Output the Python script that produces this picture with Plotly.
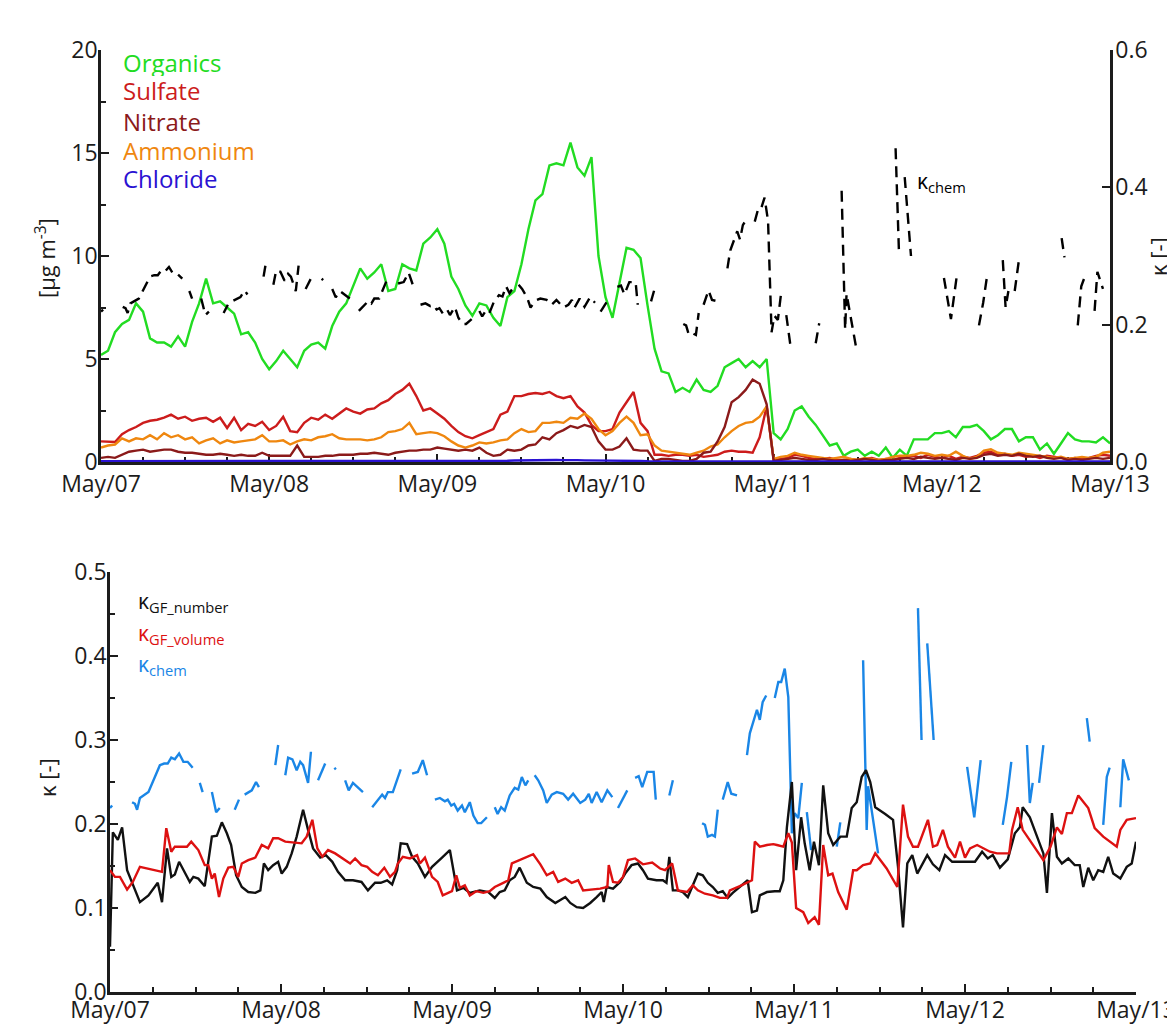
import plotly.graph_objects as go

W, H = 1167, 1025

# ---------------------------------------------------------------- time base
# hours since May/07 00:00, hourly AMS record
hours = list(range(145))

day_ticks = [0, 24, 48, 72, 96, 120, 144]
day_labels = ["May/07", "May/08", "May/09", "May/10", "May/11", "May/12", "May/13"]

# ---------------------------------------------------------------- AMS mass concentrations [ug m-3]
organics = [
    5.2, 5.4, 6.3, 6.7, 6.9, 7.7, 7.3, 6.0, 5.8, 5.8, 5.6, 6.1, 5.6, 6.8, 7.7, 8.9, 7.7, 7.8, 7.5, 7.2, 6.2, 6.3, 5.8, 5.0,
    4.5, 4.9, 5.4, 5.0, 4.6, 5.4, 5.7, 5.8, 5.5, 6.6, 7.3, 7.7, 8.6, 9.4, 8.9, 9.2, 9.6, 8.3, 8.4, 9.6, 9.4, 9.3, 10.6, 10.9,
    11.3, 10.6, 9.0, 8.4, 7.6, 7.1, 7.7, 7.6, 7.0, 6.6, 8.0, 8.3, 9.6, 11.3, 12.7, 13.0, 14.4, 14.5, 14.4, 15.5, 14.3, 13.9, 14.8, 10.0,
    8.0, 7.0, 8.7, 10.4, 10.3, 9.9, 7.6, 5.5, 4.4, 4.3, 3.4, 3.6, 3.4, 4.0, 3.5, 3.4, 3.7, 4.6, 4.8, 5.0, 4.6, 4.9, 4.6, 5.0,
    1.4, 1.1, 1.6, 2.5, 2.7, 2.2, 1.8, 1.3, 0.8, 0.9, 0.3, 0.5, 0.6, 0.3, 0.5, 0.3, 0.7, 0.2, 0.6, 0.3, 1.1, 1.1, 1.1, 1.4,
    1.4, 1.5, 1.2, 1.7, 1.7, 1.8, 1.5, 1.1, 1.3, 1.6, 1.6, 1.0, 1.2, 1.2, 0.6, 0.9, 0.4, 0.9, 1.4, 1.1, 1.0, 1.0, 0.95, 1.2,
    0.9,
]
sulfate = [
    1.0, 1.0, 0.97, 1.35, 1.55, 1.7, 1.9, 2.0, 2.05, 2.15, 2.3, 2.1, 2.2, 2.0, 2.1, 2.15, 1.95, 2.15, 1.65, 2.15, 1.55, 1.85, 1.75, 1.95,
    1.55, 1.75, 2.2, 1.5, 1.45, 1.9, 2.15, 2.05, 2.3, 2.1, 2.35, 2.6, 2.45, 2.35, 2.55, 2.6, 2.85, 3.0, 3.3, 3.5, 3.8, 3.2, 2.5, 2.6,
    2.35, 2.1, 1.75, 1.45, 1.25, 1.15, 1.3, 1.45, 1.6, 2.3, 2.45, 3.2, 3.2, 3.3, 3.35, 3.3, 3.4, 3.2, 3.1, 3.2, 2.7, 2.4, 1.8, 1.5,
    1.5, 1.6, 2.4, 2.9, 3.4, 1.9, 1.5, 0.35, 0.35, 0.3, 0.35, 0.35, 0.3, 0.35, 0.25, 0.3, 0.35, 0.5, 0.55, 0.5, 0.5, 0.45, 1.2, 2.7,
    0.1, 0.15, 0.2, 0.35, 0.3, 0.2, 0.15, 0.15, 0.2, 0.1, 0.1, 0.15, 0.1, 0.15, 0.2, 0.1, 0.15, 0.1, 0.2, 0.25, 0.3, 0.2, 0.35, 0.25,
    0.2, 0.3, 0.15, 0.25, 0.2, 0.3, 0.45, 0.5, 0.35, 0.4, 0.3, 0.35, 0.25, 0.3, 0.2, 0.3, 0.25, 0.2, 0.15, 0.2, 0.15, 0.2, 0.3, 0.35,
    0.3,
]
nitrate = [
    0.2, 0.25, 0.2, 0.35, 0.5, 0.55, 0.6, 0.5, 0.55, 0.6, 0.6, 0.5, 0.45, 0.45, 0.4, 0.35, 0.35, 0.4, 0.35, 0.3, 0.35, 0.3, 0.3, 0.45,
    0.3, 0.3, 0.3, 0.3, 0.8, 0.25, 0.25, 0.25, 0.3, 0.3, 0.35, 0.35, 0.35, 0.4, 0.4, 0.45, 0.4, 0.35, 0.45, 0.5, 0.55, 0.55, 0.6, 0.6,
    0.7, 0.65, 0.6, 0.55, 0.6, 0.55, 0.7, 0.45, 0.3, 0.35, 0.6, 0.55, 0.6, 0.8, 0.85, 1.2, 1.1, 1.4, 1.55, 1.75, 1.65, 1.8, 1.7, 1.0,
    0.6, 0.6, 0.75, 1.15, 0.6, 0.55, 0.55, 0.05, 0.15, 0.15, 0.1, 0.05, 0.05, 0.15, 0.45, 0.5, 1.0, 1.7, 2.9, 3.15, 3.5, 4.0, 3.8, 2.8,
    0.05, 0.1, 0.15, 0.2, 0.15, 0.1, 0.1, 0.15, 0.1, 0.05, 0.1, 0.05, 0.1, 0.15, 0.1, 0.05, 0.1, 0.1, 0.15, 0.2, 0.15, 0.25, 0.2, 0.15,
    0.2, 0.15, 0.1, 0.2, 0.15, 0.2, 0.35, 0.4, 0.3, 0.35, 0.3, 0.4, 0.3, 0.25, 0.3, 0.2, 0.15, 0.2, 0.1, 0.15, 0.1, 0.15, 0.2, 0.15,
    0.2,
]
ammonium = [
    0.7, 0.8, 0.85, 1.15, 1.0, 1.15, 1.1, 1.3, 1.1, 1.4, 1.2, 1.3, 1.1, 1.2, 0.9, 1.05, 1.15, 0.9, 1.05, 0.95, 1.0, 1.05, 1.1, 1.3,
    1.0, 1.0, 1.05, 0.85, 1.0, 1.1, 1.05, 1.2, 1.25, 1.35, 1.15, 1.1, 1.1, 1.1, 1.05, 1.1, 1.2, 1.45, 1.5, 1.6, 1.9, 1.35, 1.4, 1.45,
    1.4, 1.25, 1.0, 0.8, 0.7, 0.8, 0.95, 0.9, 0.95, 1.05, 1.1, 1.4, 1.6, 1.45, 1.5, 1.9, 1.9, 1.95, 1.9, 2.15, 2.1, 2.35, 2.1, 1.6,
    1.3, 1.5, 1.9, 2.2, 1.9, 1.3, 1.35, 0.8, 0.55, 0.5, 0.45, 0.4, 0.35, 0.45, 0.55, 0.75, 0.85, 1.2, 1.5, 1.75, 1.9, 1.95, 2.2, 2.7,
    0.15, 0.25, 0.3, 0.45, 0.35, 0.3, 0.25, 0.2, 0.15, 0.2, 0.25, 0.15, 0.1, 0.2, 0.15, 0.1, 0.15, 0.25, 0.3, 0.3, 0.35, 0.45, 0.4, 0.3,
    0.35, 0.3, 0.5, 0.3, 0.15, 0.25, 0.55, 0.62, 0.45, 0.4, 0.35, 0.45, 0.4, 0.35, 0.3, 0.25, 0.2, 0.25, 0.15, 0.2, 0.25, 0.2, 0.25, 0.45,
    0.5,
]
chloride = [
    0.04, 0.04, 0.03, 0.04, 0.04, 0.05, 0.04, 0.04, 0.03, 0.04, 0.04, 0.04, 0.05, 0.04, 0.04, 0.03, 0.04, 0.04, 0.04, 0.05, 0.04, 0.04, 0.04, 0.03,
    0.04, 0.04, 0.04, 0.05, 0.04, 0.04, 0.04, 0.04, 0.05, 0.04, 0.04, 0.05, 0.05, 0.04, 0.05, 0.05, 0.05, 0.05, 0.06, 0.05, 0.05, 0.05, 0.05, 0.05,
    0.05, 0.05, 0.04, 0.04, 0.04, 0.05, 0.05, 0.05, 0.05, 0.06, 0.06, 0.07, 0.08, 0.08, 0.09, 0.08, 0.09, 0.1, 0.09, 0.1, 0.09, 0.08, 0.08, 0.06,
    0.05, 0.05, 0.06, 0.06, 0.05, 0.05, 0.04, 0.03, 0.03, 0.03, 0.03, 0.03, 0.03, 0.03, 0.03, 0.03, 0.04, 0.04, 0.04, 0.04, 0.05, 0.05, 0.05, 0.05,
    0.03, 0.03, 0.03, 0.03, 0.03, 0.03, 0.03, 0.03, 0.03, 0.03, 0.03, 0.03, 0.03, 0.03, 0.03, 0.03, 0.03, 0.03, 0.03, 0.03, 0.03, 0.03, 0.03, 0.03,
    0.03, 0.03, 0.03, 0.03, 0.03, 0.03, 0.04, 0.04, 0.03, 0.03, 0.03, 0.03, 0.03, 0.03, 0.03, 0.03, 0.03, 0.03, 0.03, 0.03, 0.03, 0.03, 0.03, 0.03,
    0.03,
]

# ---------------------------------------------------------------- kappa from chemical composition (None = no data)
kchem_h = [
    0.0, 0.3, None,
    3.1, 3.5, 3.8, 4.2, 5.4, 6.3, 7.0, 7.6, 8.1, 8.6, 9.1, 9.7, 10.3, 10.9, 11.6, None,
    12.6, 13.0, None,
    14.3, 14.9, 15.4, None,
    17.5, 18.1, None,
    18.9, 19.9, 20.5, 20.9, None,
    23.2, 23.6, None,
    24.6, 25.0, 25.6, 26.2, 26.7, 27.1, 27.8, 28.2, None,
    29.2, 29.7, 30.2, None,
    31.5, 31.7, None,
    33.0, 33.5, 34.1, 34.8, 35.5, None,
    36.8, 37.5, 38.2, 38.6, 39.0, 39.7, 40.4, 40.8, None,
    42.4, 43.2, 43.9, 44.5, None,
    45.6, 46.3, 47.0, 47.4, 47.9, 48.3, 48.8, 49.4, 49.8, 50.5, 51.0, 51.6, 52.1, 52.9, None,
    54.0, 54.4, 54.9, 55.4, 56.1, 56.8, 57.3, 57.8, 58.3, 58.7, None,
    59.6, 60.1, 60.8, 61.3, 62.0, 62.7, 63.6, 64.3, 65.0, 66.0, 66.7, 67.2, 67.6, 68.3, 69.0, 69.8, 70.5, None,
    71.3, 72.6, None,
    73.7, 74.2, 74.7, 75.4, 76.3, 76.6, None,
    78.5, 79.0, None,
    83.1, 83.5, 83.9, 84.5, 84.9, 85.3, None,
    86.0, 86.7, 87.2, 88.0, None,
    89.4, 89.8, 90.8, 91.2, 91.6, 92.1, None,
    93.3, 93.8, 94.2, 94.7, 95.2, 95.7, 96.1, 96.6, 97.1, None,
    97.8, 98.4, None,
    102.0, 102.5, None,
    105.7, 106.2, 106.4, 107.8, None,
    113.4, 113.9, None,
    114.7, 115.6, None,
    120.3, 121.3, 122.2, None,
    125.3, 125.9, 126.5, None,
    128.7, 129.1, 129.5, None,
    130.4, 131.0, None,
    137.1, 137.5, None,
    139.4, 139.9, 140.3, None,
    141.8, 142.2, 143.0,
]
kchem = [
    0.219, 0.222, None,
    0.226, 0.224, 0.217, 0.231, 0.238, 0.255, 0.270, 0.272, 0.272, 0.279, 0.277, 0.284, 0.274, 0.274, 0.267, None,
    0.249, 0.238, None,
    0.238, 0.214, 0.219, None,
    0.217, 0.229, None,
    0.235, 0.240, 0.250, 0.244, None,
    0.270, 0.294, None,
    0.258, 0.279, 0.277, 0.264, 0.274, 0.270, 0.249, 0.286, None,
    0.252, 0.262, 0.272, None,
    0.267, 0.265, None,
    0.252, 0.240, 0.249, 0.244, 0.238, None,
    0.220, 0.227, 0.235, 0.231, 0.238, 0.238, 0.256, 0.265, None,
    0.260, 0.262, 0.276, 0.258, None,
    0.229, 0.231, 0.227, 0.229, 0.222, 0.224, 0.216, 0.222, 0.214, 0.226, 0.210, 0.201, 0.201, 0.208, None,
    0.220, 0.212, 0.220, 0.216, 0.234, 0.243, 0.241, 0.256, 0.246, 0.252, None,
    0.258, 0.252, 0.240, 0.225, 0.235, 0.238, 0.236, 0.229, 0.236, 0.225, 0.229, 0.236, 0.225, 0.238, 0.226, 0.240, 0.232, None,
    0.219, 0.240, None,
    0.255, 0.257, 0.244, 0.262, 0.262, 0.229, None,
    0.234, 0.252, None,
    0.201, 0.199, 0.185, 0.187, 0.185, 0.217, None,
    0.229, 0.250, 0.236, 0.234, None,
    0.282, 0.308, 0.336, 0.324, 0.345, 0.353, None,
    0.350, 0.369, 0.369, 0.385, 0.351, 0.189, 0.213, 0.207, 0.249, None,
    0.214, 0.169, None,
    0.173, 0.202, None,
    0.395, 0.193, 0.245, 0.165, None,
    0.457, 0.300, None,
    0.415, 0.300, None,
    0.268, 0.208, 0.276, None,
    0.199, 0.232, 0.274, None,
    0.294, 0.225, 0.249, None,
    0.249, 0.294, None,
    0.326, 0.298, None,
    0.199, 0.256, 0.267, None,
    0.220, 0.277, 0.252,
]

# ---------------------------------------------------------------- kappa from growth factors
kgf_number_h = [
    0.0, 0.4, 1.1, 1.7, 2.4, 3.1, 4.2, 5.4, 6.7, 7.3, 8.0, 8.6, 9.1, 9.7, 10.5, 11.2, 11.7, 12.4, 13.3, 13.9, 14.3, 15.0, 15.7, 16.4,
    17.0, 17.7, 18.5, 19.4, 20.4, 21.1, 21.6, 22.2, 22.9, 23.6, 24.1, 24.8, 25.5, 26.2, 27.1, 27.8, 28.5, 29.5, 30.3, 31.2, 32.0, 33.0,
    34.1, 35.3, 36.2, 37.2, 38.0, 38.9, 39.6, 40.3, 40.8, 41.7, 42.4, 43.2, 44.2, 45.2, 46.0, 46.6, 47.7, 48.7, 49.6, 50.5, 51.9, 53.1,
    54.0, 54.7, 55.4, 56.1, 56.8, 57.5, 58.5, 59.4, 60.4, 61.3, 62.5, 63.2, 63.9, 64.6, 65.5, 66.4, 67.4, 68.3, 69.0, 69.3, 69.7, 70.6,
    71.6, 72.3, 73.2, 74.1, 74.8, 75.5, 76.7, 77.6, 78.1, 78.5, 79.0, 79.7, 80.4, 81.1, 81.8, 82.5, 83.2, 83.9, 84.6, 85.3, 86.0, 86.7,
    87.4, 88.4, 89.5, 90.1, 90.8, 91.2, 92.2, 93.3, 94.0, 94.5, 95.0, 95.7, 96.3, 97.0, 97.5, 98.2, 98.8, 99.5, 100.1, 100.8, 101.5,
    102.5, 103.4, 104.1, 104.8, 105.5, 106.1, 106.7, 107.4, 108.8, 109.9, 110.6, 111.3, 111.9, 112.6, 113.3, 114.7, 115.5, 116.4,
    117.2, 118.2, 119.3, 120.4, 121.4, 122.4, 123.2, 123.9, 124.9, 126.0, 127.0, 127.7, 128.1, 129.1, 131.0, 131.5, 132.2, 132.9,
    133.6, 134.5, 135.4, 136.1, 136.6, 137.3, 138.0, 138.7, 139.4, 140.1, 140.8, 141.8, 142.7, 143.4, 144.0,
]
kgf_number = [
    0.054, 0.190, 0.181, 0.196, 0.145, 0.130, 0.107, 0.115, 0.130, 0.107, 0.171, 0.137, 0.140, 0.155, 0.143, 0.131, 0.137, 0.135, 0.126, 0.160, 0.185, 0.186, 0.202, 0.189,
    0.175, 0.139, 0.125, 0.119, 0.118, 0.121, 0.153, 0.145, 0.151, 0.155, 0.141, 0.149, 0.165, 0.185, 0.217, 0.193, 0.171, 0.160, 0.163, 0.155, 0.143, 0.133,
    0.133, 0.131, 0.121, 0.130, 0.130, 0.133, 0.128, 0.145, 0.177, 0.176, 0.161, 0.153, 0.137, 0.149, 0.155, 0.160, 0.169, 0.121, 0.124, 0.118, 0.121, 0.119,
    0.112, 0.119, 0.121, 0.133, 0.137, 0.148, 0.130, 0.125, 0.123, 0.113, 0.106, 0.110, 0.113, 0.106, 0.101, 0.100, 0.106, 0.113, 0.119, 0.107, 0.125, 0.123,
    0.131, 0.141, 0.151, 0.153, 0.145, 0.135, 0.133, 0.133, 0.130, 0.161, 0.121, 0.121, 0.119, 0.113, 0.127, 0.141, 0.139, 0.130, 0.125, 0.118, 0.120, 0.112,
    0.118, 0.125, 0.133, 0.095, 0.097, 0.115, 0.119, 0.120, 0.120, 0.133, 0.196, 0.250, 0.145, 0.208, 0.177, 0.145, 0.179, 0.151, 0.246, 0.189, 0.175,
    0.185, 0.185, 0.219, 0.226, 0.256, 0.264, 0.250, 0.220, 0.212, 0.205, 0.149, 0.077, 0.153, 0.163, 0.141, 0.163, 0.152, 0.145,
    0.163, 0.155, 0.155, 0.155, 0.155, 0.167, 0.159, 0.163, 0.148, 0.158, 0.189, 0.196, 0.220, 0.208, 0.165, 0.118, 0.213, 0.161,
    0.153, 0.159, 0.151, 0.151, 0.125, 0.148, 0.133, 0.145, 0.143, 0.161, 0.141, 0.135, 0.149, 0.153, 0.179,
]
kgf_volume_h = [
    0.0, 0.7, 1.4, 2.4, 3.2, 4.2, 7.3, 7.9, 8.6, 9.1, 10.8, 11.4, 12.4, 13.3, 13.8, 14.3, 14.7, 15.3, 15.9, 16.6, 17.3, 18.0, 18.5,
    19.4, 20.4, 21.3, 22.2, 22.9, 23.6, 24.6, 26.9, 27.6, 28.4, 29.1, 29.8, 30.6, 31.6, 32.6, 33.7, 34.4, 35.3, 36.1, 36.8, 37.6,
    38.5, 39.3, 40.0, 40.4, 41.1, 42.1, 43.1, 43.5, 44.2, 45.2, 46.0, 46.7, 48.0, 48.6, 49.1, 49.8, 50.5, 51.4, 52.4, 53.3, 54.0,
    55.2, 55.9, 56.4, 57.5, 58.5, 59.4, 60.4, 61.3, 62.2, 62.9, 63.9, 64.8, 65.7, 66.4, 68.8, 69.8, 70.0, 70.6, 71.3, 72.0, 72.7,
    73.7, 74.8, 76.1, 77.2, 77.9, 78.9, 79.7, 81.0, 81.8, 82.5, 83.5, 84.6, 85.6, 86.6, 87.0, 88.4, 90.1, 90.5, 91.2, 92.2, 93.1,
    93.6, 94.5, 95.2, 95.7, 96.3, 97.3, 98.0, 98.9, 99.5, 100.1, 100.8, 101.4, 102.2, 103.4, 104.3, 104.8, 105.7, 106.7, 107.4,
    109.0, 110.5, 111.3, 112.0, 112.7, 113.4, 114.8, 115.5, 116.1, 116.9, 117.6, 118.6, 119.3, 120.0, 120.7, 121.7, 122.5, 123.5,
    124.5, 125.3, 126.2, 126.6, 127.4, 128.1, 129.1, 130.1, 131.0, 132.0, 132.9, 133.6, 134.3, 135.0, 135.9, 137.3, 138.2, 139.4,
    140.6, 141.3, 141.8, 142.7, 144.0,
]
kgf_volume = [
    0.145, 0.137, 0.137, 0.122, 0.131, 0.149, 0.143, 0.195, 0.167, 0.173, 0.173, 0.179, 0.169, 0.151, 0.151, 0.135, 0.141, 0.113, 0.135, 0.148, 0.149, 0.137, 0.153,
    0.157, 0.160, 0.175, 0.171, 0.183, 0.183, 0.179, 0.177, 0.185, 0.205, 0.171, 0.161, 0.169, 0.165, 0.159, 0.153, 0.159, 0.151, 0.149, 0.143, 0.139,
    0.148, 0.137, 0.143, 0.153, 0.161, 0.159, 0.163, 0.153, 0.160, 0.137, 0.131, 0.115, 0.120, 0.139, 0.124, 0.127, 0.115, 0.120, 0.118, 0.120, 0.125,
    0.130, 0.133, 0.153, 0.157, 0.161, 0.164, 0.152, 0.139, 0.143, 0.131, 0.135, 0.130, 0.133, 0.121, 0.123, 0.125, 0.151, 0.131, 0.130, 0.137, 0.157,
    0.159, 0.152, 0.154, 0.147, 0.145, 0.153, 0.121, 0.119, 0.127, 0.121, 0.117, 0.115, 0.112, 0.112, 0.121, 0.126, 0.133, 0.179, 0.173, 0.175, 0.176,
    0.175, 0.173, 0.189, 0.178, 0.100, 0.095, 0.082, 0.089, 0.080, 0.175, 0.139, 0.141, 0.119, 0.098, 0.145, 0.145, 0.151, 0.153, 0.165,
    0.147, 0.125, 0.223, 0.185, 0.173, 0.173, 0.205, 0.173, 0.175, 0.193, 0.173, 0.160, 0.179, 0.160, 0.171, 0.175, 0.171, 0.167,
    0.165, 0.165, 0.165, 0.193, 0.220, 0.193, 0.181, 0.169, 0.157, 0.173, 0.196, 0.188, 0.213, 0.213, 0.234, 0.219, 0.195, 0.185,
    0.177, 0.173, 0.193, 0.205, 0.207,
]

# ---------------------------------------------------------------- styling
FONT = "Open Sans"
INK = "#1c1c1c"
C_ORG, C_SO4, C_NO3, C_NH4, C_CHL = "#22dc22", "#cc1c1c", "#8b1a1a", "#ef870f", "#2a12d2"
C_NUM, C_VOL, C_CHEM = "#111111", "#dd1111", "#1a86e6"
LW = 2.4


def px(x):
    return x / W


def py(y):
    return 1 - y / H


fig = go.Figure()

# upper panel: AMS species
for name, vals, col in [
    ("Organics", organics, C_ORG),
    ("Sulfate", sulfate, C_SO4),
    ("Ammonium", ammonium, C_NH4),
    ("Nitrate", nitrate, C_NO3),
    ("Chloride", chloride, C_CHL),
]:
    fig.add_trace(go.Scatter(x=hours, y=vals, mode="lines", name=name,
                             line=dict(color=col, width=LW), xaxis="x", yaxis="y"))

fig.add_trace(go.Scatter(x=kchem_h, y=kchem, mode="lines", name="kappa_chem",
                         line=dict(color="#000000", width=2.4, dash="11px,7px"),
                         connectgaps=False, xaxis="x", yaxis="y2"))

# lower panel: kappa comparison
fig.add_trace(go.Scatter(x=kchem_h, y=kchem, mode="lines", line=dict(color=C_CHEM, width=LW),
                         connectgaps=False, xaxis="x2", yaxis="y3"))
fig.add_trace(go.Scatter(x=kgf_number_h, y=kgf_number, mode="lines", line=dict(color=C_NUM, width=LW),
                         xaxis="x2", yaxis="y3"))
fig.add_trace(go.Scatter(x=kgf_volume_h, y=kgf_volume, mode="lines", line=dict(color=C_VOL, width=LW),
                         xaxis="x2", yaxis="y3"))

tickfont = dict(family=FONT, size=23, color=INK)
axis_common = dict(showline=True, linecolor=INK, linewidth=2.5, ticks="inside", tickcolor=INK,
                   tickwidth=2, ticklen=8, showgrid=False, zeroline=False, tickfont=tickfont,
                   fixedrange=True, automargin=False)

xa = dict(axis_common, range=[0, 144], tickmode="array", tickvals=day_ticks, ticktext=day_labels,
          minor=dict(tick0=0, dtick=6, ticks="inside", ticklen=5, tickwidth=2, tickcolor=INK),
          layer="below traces", ticklabeloverflow="allow")

fig.update_layout(
    width=W, height=H, margin=dict(l=0, r=0, t=0, b=0, autoexpand=False),
    paper_bgcolor="white", plot_bgcolor="white", showlegend=False,
    xaxis=dict(xa, domain=[px(101), px(1110)], anchor="y"),
    yaxis=dict(axis_common, domain=[py(462), py(50)], anchor="x", range=[0, 20],
               tickmode="array", tickvals=[0, 5, 10, 15, 20], ticklabelstandoff=-4,
               minor=dict(tick0=0, dtick=2.5, ticks="inside", ticklen=5, tickwidth=2, tickcolor=INK)),
    yaxis2=dict(axis_common, overlaying="y", side="right", anchor="x", range=[0, 0.6],
                tickmode="array", tickvals=[0, 0.2, 0.4, 0.6], ticktext=["0.0", "0.2", "0.4", "0.6"],
                ticklabelstandoff=-2),
    xaxis2=dict(xa, domain=[px(110), px(1136)], anchor="y3", ticklabelstandoff=-4),
    yaxis3=dict(axis_common, domain=[py(992), py(572)], anchor="x2", range=[0, 0.5],
                tickmode="array", tickvals=[0, 0.1, 0.2, 0.3, 0.4, 0.5],
                ticktext=["0.0", "0.1", "0.2", "0.3", "0.4", "0.5"], ticklabelstandoff=-4,
                minor=dict(tick0=0, dtick=0.05, ticks="inside", ticklen=5, tickwidth=2, tickcolor=INK)),
)

annotations = []


def label(text, x, y, color, size=21, angle=0, xanchor="left", box_h=None):
    ann = dict(text=text, x=px(x), y=py(y), xref="paper", yref="paper",
               xanchor=xanchor, yanchor="middle", showarrow=False, textangle=angle,
               font=dict(family=FONT, size=size, color=color))
    if box_h:
        ann["height"] = box_h
    annotations.append(ann)


# upper panel key
label("Organics", 121, 62, C_ORG, size=24, box_h=27)
label("Sulfate", 121, 91, C_SO4, size=24, box_h=27)
label("Nitrate", 121, 121, C_NO3, size=24, box_h=27)
label("Ammonium", 121, 150, C_NH4, size=24, box_h=27)
label("Chloride", 121, 179, C_CHL, size=24, box_h=27)
label("κ<sub>chem</sub>", 915, 182, "#000000", size=21)

# axis titles
label("[μg m<sup>-3</sup>]", 45, 258, INK, size=22, angle=-90, xanchor="center")
label("κ [-]", 1158, 257, INK, size=22, angle=-90, xanchor="center")
label("κ [-]", 47, 778, INK, size=22, angle=-90, xanchor="center")

# lower panel key
label("κ<sub>GF_number</sub>", 136, 602, C_NUM, size=21, box_h=30)
label("κ<sub>GF_volume</sub>", 136, 634, C_VOL, size=21, box_h=30)
label("κ<sub>chem</sub>", 136, 665, C_CHEM, size=21, box_h=30)

fig.update_layout(annotations=annotations)

fig.write_html("out.html")
